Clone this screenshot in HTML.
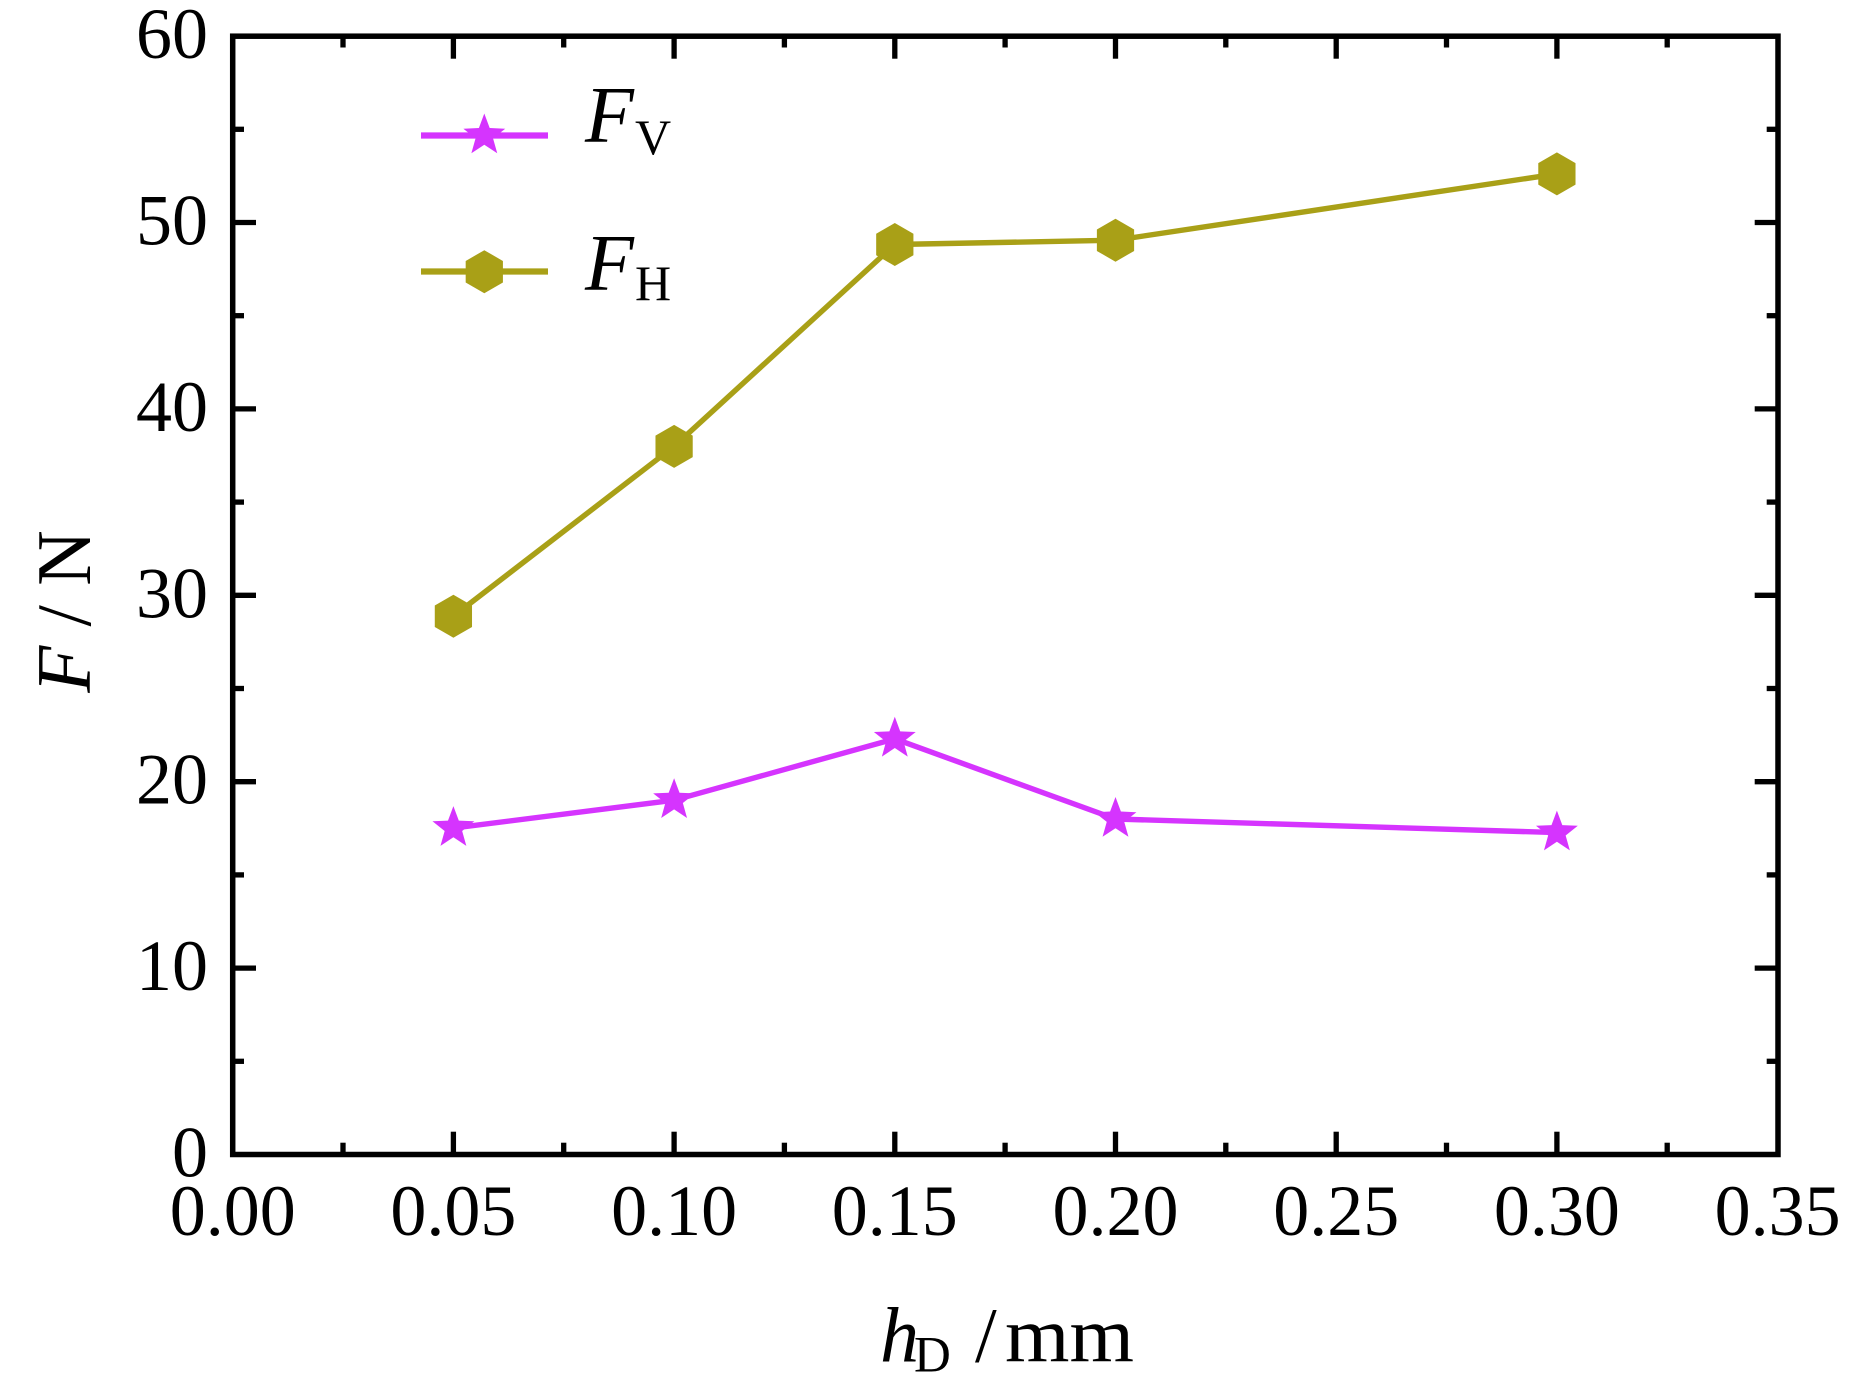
<!DOCTYPE html>
<html>
<head>
<meta charset="utf-8">
<style>
  html, body { margin:0; padding:0; background:#ffffff; }
  svg { display:block; }
  text { font-family: "Liberation Serif", "Times New Roman", serif; fill:#000; }
</style>
</head>
<body>
<svg width="1865" height="1384" viewBox="0 0 1865 1384" xmlns="http://www.w3.org/2000/svg">
  <defs>
    <polygon id="hex" points="0,-21.5 18.62,-10.75 18.62,10.75 0,21.5 -18.62,10.75 -18.62,-10.75"/>
    <polygon id="star" points="0,-22 5.41,-7.44 20.92,-6.8 8.75,2.84 12.93,17.8 0,9.2 -12.93,17.8 -8.75,2.84 -20.92,-6.8 -5.41,-7.44"/>
  </defs>

  <!-- data lines -->
  <polyline fill="none" stroke="#a9a017" stroke-width="5.4" stroke-linejoin="round"
    points="453.4,616.2 674.1,446.4 894.8,244.5 1115.5,240.2 1556.9,173.9"/>
  <polyline fill="none" stroke="#d534fe" stroke-width="5.4" stroke-linejoin="round"
    points="453.4,828.1 674.1,800.2 894.8,738.8 1115.5,819.0 1556.9,832.6"/>

  <!-- markers FH -->
  <g fill="#a9a017">
    <use href="#hex" x="453.4" y="616.2"/>
    <use href="#hex" x="674.1" y="446.4"/>
    <use href="#hex" x="894.8" y="244.5"/>
    <use href="#hex" x="1115.5" y="240.2"/>
    <use href="#hex" x="1556.9" y="173.9"/>
  </g>
  <!-- markers FV -->
  <g fill="#d534fe">
    <use href="#star" x="453.4" y="828.1"/>
    <use href="#star" x="674.1" y="800.2"/>
    <use href="#star" x="894.8" y="738.8"/>
    <use href="#star" x="1115.5" y="819.0"/>
    <use href="#star" x="1556.9" y="832.6"/>
  </g>

  <!-- frame -->
  <rect x="232.7" y="36.2" width="1545.3" height="1118.3" fill="none" stroke="#000" stroke-width="5.5"/>

  <g stroke="#000" stroke-width="5.3">
    <!-- bottom major -->
    <line x1="453.4" y1="1154.5" x2="453.4" y2="1131.7"/>
    <line x1="674.1" y1="1154.5" x2="674.1" y2="1131.7"/>
    <line x1="894.8" y1="1154.5" x2="894.8" y2="1131.7"/>
    <line x1="1115.5" y1="1154.5" x2="1115.5" y2="1131.7"/>
    <line x1="1336.2" y1="1154.5" x2="1336.2" y2="1131.7"/>
    <line x1="1556.9" y1="1154.5" x2="1556.9" y2="1131.7"/>
    <!-- bottom minor -->
    <line x1="343.0" y1="1154.5" x2="343.0" y2="1142.7"/>
    <line x1="563.7" y1="1154.5" x2="563.7" y2="1142.7"/>
    <line x1="784.4" y1="1154.5" x2="784.4" y2="1142.7"/>
    <line x1="1005.1" y1="1154.5" x2="1005.1" y2="1142.7"/>
    <line x1="1225.8" y1="1154.5" x2="1225.8" y2="1142.7"/>
    <line x1="1446.5" y1="1154.5" x2="1446.5" y2="1142.7"/>
    <line x1="1667.2" y1="1154.5" x2="1667.2" y2="1142.7"/>
    <!-- top major -->
    <line x1="453.4" y1="36.2" x2="453.4" y2="58.7"/>
    <line x1="674.1" y1="36.2" x2="674.1" y2="58.7"/>
    <line x1="894.8" y1="36.2" x2="894.8" y2="58.7"/>
    <line x1="1115.5" y1="36.2" x2="1115.5" y2="58.7"/>
    <line x1="1336.2" y1="36.2" x2="1336.2" y2="58.7"/>
    <line x1="1556.9" y1="36.2" x2="1556.9" y2="58.7"/>
    <!-- top minor -->
    <line x1="343.0" y1="36.2" x2="343.0" y2="47.5"/>
    <line x1="563.7" y1="36.2" x2="563.7" y2="47.5"/>
    <line x1="784.4" y1="36.2" x2="784.4" y2="47.5"/>
    <line x1="1005.1" y1="36.2" x2="1005.1" y2="47.5"/>
    <line x1="1225.8" y1="36.2" x2="1225.8" y2="47.5"/>
    <line x1="1446.5" y1="36.2" x2="1446.5" y2="47.5"/>
    <line x1="1667.2" y1="36.2" x2="1667.2" y2="47.5"/>

    <!-- left major -->
    <line x1="232.7" y1="968.1" x2="256" y2="968.1"/>
    <line x1="232.7" y1="781.7" x2="256" y2="781.7"/>
    <line x1="232.7" y1="595.3" x2="256" y2="595.3"/>
    <line x1="232.7" y1="408.9" x2="256" y2="408.9"/>
    <line x1="232.7" y1="222.5" x2="256" y2="222.5"/>
    <!-- left minor -->
    <line x1="232.7" y1="1061.3" x2="244" y2="1061.3"/>
    <line x1="232.7" y1="874.9" x2="244" y2="874.9"/>
    <line x1="232.7" y1="688.5" x2="244" y2="688.5"/>
    <line x1="232.7" y1="502.1" x2="244" y2="502.1"/>
    <line x1="232.7" y1="315.7" x2="244" y2="315.7"/>
    <line x1="232.7" y1="129.3" x2="244" y2="129.3"/>
    <!-- right major -->
    <line x1="1778" y1="968.1" x2="1754.7" y2="968.1"/>
    <line x1="1778" y1="781.7" x2="1754.7" y2="781.7"/>
    <line x1="1778" y1="595.3" x2="1754.7" y2="595.3"/>
    <line x1="1778" y1="408.9" x2="1754.7" y2="408.9"/>
    <line x1="1778" y1="222.5" x2="1754.7" y2="222.5"/>
    <!-- right minor -->
    <line x1="1778" y1="1061.3" x2="1766.7" y2="1061.3"/>
    <line x1="1778" y1="874.9" x2="1766.7" y2="874.9"/>
    <line x1="1778" y1="688.5" x2="1766.7" y2="688.5"/>
    <line x1="1778" y1="502.1" x2="1766.7" y2="502.1"/>
    <line x1="1778" y1="315.7" x2="1766.7" y2="315.7"/>
    <line x1="1778" y1="129.3" x2="1766.7" y2="129.3"/>
  </g>

  <!-- y tick labels -->
  <g font-size="72" text-anchor="end">
    <text x="208" y="1176.5">0</text>
    <text x="208" y="990.1">10</text>
    <text x="208" y="803.7">20</text>
    <text x="208" y="617.3">30</text>
    <text x="208" y="430.9">40</text>
    <text x="208" y="244.5">50</text>
    <text x="208" y="58.2">60</text>
  </g>

  <!-- x tick labels -->
  <g font-size="72" text-anchor="middle">
    <text x="232.7" y="1235">0.00</text>
    <text x="453.4" y="1235">0.05</text>
    <text x="674.1" y="1235">0.10</text>
    <text x="894.8" y="1235">0.15</text>
    <text x="1115.5" y="1235">0.20</text>
    <text x="1336.2" y="1235">0.25</text>
    <text x="1556.9" y="1235">0.30</text>
    <text x="1777.6" y="1235">0.35</text>
  </g>

  <!-- axis titles -->
  <text font-size="78">
    <tspan x="880" y="1361.7" font-style="italic">h</tspan><tspan x="914" y="1371.7" font-size="51">D</tspan><tspan x="975" y="1361.7">/</tspan><tspan x="1005" y="1361.7" textLength="129" lengthAdjust="spacingAndGlyphs">mm</tspan>
  </text>
  <text font-size="77" transform="translate(90,611.5) rotate(-90)" text-anchor="middle"><tspan font-style="italic">F</tspan> / N</text>

  <!-- legend -->
  <line x1="421" y1="135.5" x2="548" y2="135.5" stroke="#d534fe" stroke-width="6.2"/>
  <use href="#star" x="484.3" y="135.5" fill="#d534fe"/>
  <line x1="421" y1="271.5" x2="548" y2="271.5" stroke="#a9a017" stroke-width="6.2"/>
  <use href="#hex" x="484.3" y="271.7" fill="#a9a017"/>

  <text font-size="80"><tspan x="585" y="141.7" font-style="italic">F</tspan><tspan x="635" y="154" font-size="50">V</tspan></text>
  <text font-size="80"><tspan x="585" y="289.3" font-style="italic">F</tspan><tspan x="635" y="300" font-size="50">H</tspan></text>
</svg>
</body>
</html>
